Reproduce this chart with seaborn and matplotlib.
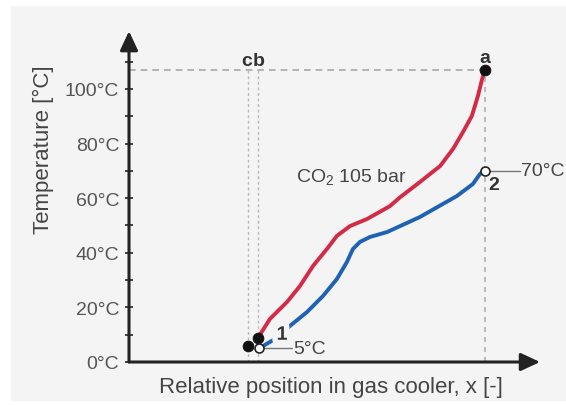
import numpy as np
import pandas as pd
import matplotlib
matplotlib.use("Agg")
import matplotlib.pyplot as plt
import matplotlib.patheffects as pe
from matplotlib.patches import Rectangle
import seaborn as sns

# CO2 side (red) and water side (blue) temperature profiles along the gas cooler
co2_x = [0.362, 0.396, 0.444, 0.480, 0.517, 0.556, 0.584, 0.621, 0.669, 0.733,
         0.761, 0.817, 0.874, 0.910, 0.938, 0.963, 0.980, 0.992, 1.0]
co2_t = [8.8, 15.8, 22.0, 27.8, 35.2, 41.4, 46.2, 49.8, 52.4, 57.1,
         60.3, 65.9, 71.8, 78.0, 84.2, 90.1, 97.4, 103.7, 107.0]

water_x = [0.365, 0.410, 0.452, 0.500, 0.545, 0.584, 0.612, 0.629, 0.649, 0.677,
           0.725, 0.817, 0.921, 0.966, 0.986, 1.0]
water_t = [5.0, 8.4, 13.2, 18.3, 24.2, 30.4, 36.6, 41.4, 44.0, 45.8,
           47.6, 53.1, 60.8, 65.2, 68.9, 70.0]

# state points
point_names = ["a", "b", "c"]
point_x = [1.0, 0.362, 0.334]
point_t = [107.0, 8.8, 6.0]

water_in = (0.365, 5.0)    # point 1
water_out = (1.0, 70.0)    # point 2

ytick_vals = [0, 20, 40, 60, 80, 100]
ytick_labels = ["0°C", "20°C", "40°C", "60°C", "80°C", "100°C"]
yminor_vals = [10, 30, 50, 70, 90, 110]

RED = "#d42a45"
BLUE = "#1f62b3"
TXT = "#454545"
BG = "#f4f4f4"

sns.set_theme(style="white")
plt.rcParams["font.family"] = ["Liberation Sans", "DejaVu Sans"]
plt.rcParams["mathtext.fontset"] = "custom"
plt.rcParams["mathtext.rm"] = "Liberation Sans"
plt.rcParams["mathtext.it"] = "Liberation Sans:italic"
plt.rcParams["mathtext.bf"] = "Liberation Sans:bold"

fig = plt.figure(figsize=(5.66, 4.06), dpi=100, facecolor="white")
fig.patches.append(Rectangle((11 / 566, 4 / 406), 555 / 566, 395 / 406,
                             transform=fig.transFigure, facecolor=BG,
                             edgecolor="none", zorder=-10))
ax = fig.add_axes([129 / 566, 43 / 406, 416 / 566, 335 / 406])
ax.set_facecolor("none")
for s in ax.spines.values():
    s.set_visible(False)
ax.set_xlim(0, 1.1685)
ax.set_ylim(0, 122.7)

# guide lines
ta = point_t[0]
ax.plot([0, 1.0], [ta, ta], color="#a8a8a8", lw=1.2, ls=(0, (4, 3)), zorder=1)
ax.plot([1.0, 1.0], [0, ta], color="#b0b0b0", lw=1.2, ls=(0, (3, 3)), zorder=1)
for xv in point_x[1:]:
    ax.plot([xv, xv], [0, ta], color="#b8b8b8", lw=1.0, ls=(0, (2, 2)), zorder=1)

# temperature curves
co2_df = pd.DataFrame({"x": co2_x, "T": co2_t})
water_df = pd.DataFrame({"x": water_x, "T": water_t})
sns.lineplot(data=co2_df, x="x", y="T", sort=False, estimator=None,
             color=RED, lw=2.8, ax=ax, zorder=3)
sns.lineplot(data=water_df, x="x", y="T", sort=False, estimator=None,
             color=BLUE, lw=2.8, ax=ax, zorder=3)

# axes arrows
arrow_kw = dict(arrowstyle="-|>,head_length=0.58,head_width=0.27", lw=2.2,
                color="#222222", mutation_scale=20, shrinkA=0, shrinkB=0)
ax.annotate("", xy=(1.1545, 0), xytext=(0, 0), arrowprops=arrow_kw,
            annotation_clip=False, zorder=5)
ax.annotate("", xy=(0, 121.2), xytext=(0, 0), arrowprops=arrow_kw,
            annotation_clip=False, zorder=5)

# leader lines for inlet / outlet temperatures
ax.plot([0.374, 0.458], [water_in[1], water_in[1]], color="#777777", lw=1.0, zorder=2)
ax.plot([1.008, 1.098], [water_out[1], water_out[1]], color="#777777", lw=1.0, zorder=2)

# state points
pts = pd.DataFrame({"x": point_x, "T": point_t, "name": point_names})
sns.scatterplot(data=pts, x="x", y="T", color="#111111", s=60, ax=ax,
                edgecolor="#111111", zorder=6, legend=False)
open_pts = pd.DataFrame({"x": [water_in[0], water_out[0]], "T": [water_in[1], water_out[1]]})
sns.scatterplot(data=open_pts, x="x", y="T", color="white", s=42, ax=ax,
                edgecolor="#222222", linewidth=1.2, zorder=6, legend=False)

# labels
bold = dict(fontsize=14, fontweight="bold", color="#333333", ha="center", va="center")
ax.text(point_x[2] - 0.003, 110.6, "c", **bold)
ax.text(point_x[1] + 0.003, 110.6, "b", **bold)
ax.text(point_x[0], 111.7, "a", **bold)
ax.text(1.025, 65.0, "2", **bold)
ax.text(0.43, 9.8, "1", path_effects=[pe.withStroke(linewidth=8, foreground=BG)],
        zorder=4, **bold)
ax.text(0.462, water_in[1], "5°C", fontsize=14, color=TXT, ha="left", va="center")
ax.text(1.102, water_out[1], "70°C", fontsize=14, color=TXT, ha="left", va="center",
        clip_on=False)
ax.text(0.624, 68.1, "CO$_2$ 105 bar", fontsize=14, color=TXT, ha="center", va="center")

# ticks
ax.set_xticks([])
ax.set_yticks(ytick_vals)
ax.set_yticklabels(ytick_labels)
ax.set_yticks(yminor_vals, minor=True)
ax.tick_params(axis="y", which="both", direction="inout", length=6, width=1.3,
               color="#333333", labelsize=14, labelcolor="#555555", pad=4, left=True)
ax.grid(False)

ax.set_xlabel("Relative position in gas cooler, x [-]", fontsize=16, color=TXT)
ax.set_ylabel("Temperature [°C]", fontsize=16, color=TXT)
ax.xaxis.set_label_coords(0.486, -0.042)
ax.yaxis.set_label_coords(-0.180, 0.636)

fig.savefig("out.png", dpi=100, facecolor=fig.get_facecolor())
